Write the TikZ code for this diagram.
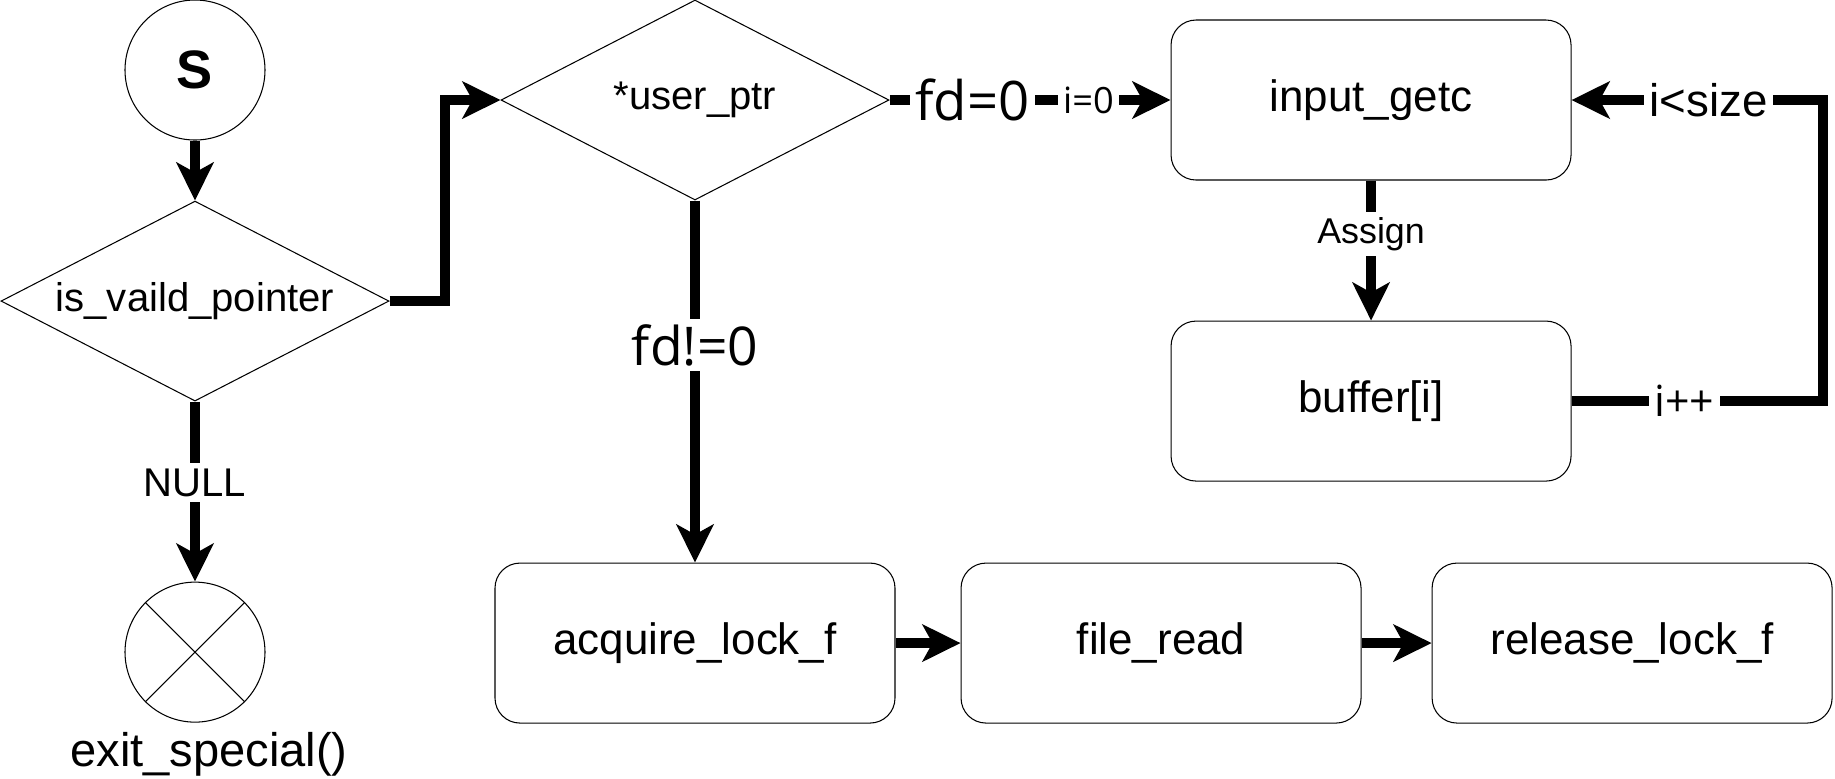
\documentclass[tikz,border=0pt]{standalone}
\usepackage{fontspec}
\setmainfont{Liberation Sans}
\newfontfamily\labelfont{Open Sans}
\usepackage{tikz}
\usetikzlibrary{shapes.geometric, arrows.meta, positioning, calc}

\begin{document}
\begin{tikzpicture}[
    startnode/.style={draw, circle, line width=0.3pt, minimum size=1.4cm, inner sep=0pt, font=\fontsize{15.4}{18}\selectfont\bfseries},
    endnode/.style={draw, circle, line width=0.3pt, minimum size=1.4cm, inner sep=0pt},
    decision/.style={draw, diamond, aspect=2, line width=0.3pt, minimum width=3.88cm, minimum height=2cm, inner sep=0pt, font=\fontsize{11.4}{13}\selectfont},
    box/.style={draw, rectangle, rounded corners=0.25cm, line width=0.3pt, minimum width=4cm, minimum height=1.6cm, text centered, align=center, font=\fontsize{12.5}{15}\selectfont},
    arrow/.style={line width=2.85pt, -{Stealth[length=0.38cm, width=0.37cm, inset=0.1cm]}},
    lbl/.style={fill=white, inner sep=1.5pt}
]

\useasboundingbox (0,0) rectangle (18.35,-7.78);

% Pointer check
\node (start) [startnode] at (1.95,-0.70) {S};
\node (valid) [decision, below=0.6cm of start] {is\_vaild\_pointer};
\node (exit) [endnode, below=1.8cm of valid] {};
\draw [line width=0.3pt] (exit.north west) -- (exit.south east);
\draw [line width=0.3pt] (exit.north east) -- (exit.south west);
\node (exittext) [anchor=base, inner sep=0pt, font=\fontsize{13.4}{16}\selectfont] at ($(exit.south)+(0.14,-0.44)$) {exit\_special()};

\draw [arrow] (start) -- (valid);
\draw [arrow] (valid) -- node[lbl, pos=0.45, font=\fontsize{11.4}{13}\selectfont] {NULL} (exit);

% User pointer dispatch
\node (user) [decision] at (6.95,-1.00) {*user\_ptr};
\draw [arrow] (valid.east) -- ++(0.55,0) |- (user.west);

% Terminal input loop
\node (getc) [box, right=2.81cm of user] {input\_getc};
\node (buffer) [box, below=1.4cm of getc] {buffer[i]};

\draw [arrow] (user) -- node[lbl, pos=0.295, font=\labelfont\fontsize{15.5}{18}\selectfont] {fd=0}
    node[lbl, pos=0.708, font=\labelfont\fontsize{10.3}{12}\selectfont] {i=0} (getc);
\draw [arrow] (getc) -- node[lbl, pos=0.38, font=\fontsize{10.2}{12}\selectfont] {Assign} (buffer);
\draw [arrow] (buffer.east) -- node[lbl, pos=0.45, font=\labelfont\fontsize{12.2}{14}\selectfont] {i++} ++(2.51,0)
    |- node[lbl, pos=0.727, font=\fontsize{13}{16}\selectfont] {i<size} (getc.east);

% File read path
\node (acquire) [box, below=3.62cm of user] {acquire\_lock\_f};
\node (fileread) [box, right=0.65cm of acquire] {file\_read};
\node (release) [box, right=0.7cm of fileread] {release\_lock\_f};

\draw [arrow] (user) -- node[lbl, pos=0.40, font=\labelfont\fontsize{15.2}{18}\selectfont] {fd!=0} (acquire);
\draw [arrow] (acquire) -- (fileread);
\draw [arrow] (fileread) -- (release);

\end{tikzpicture}
\end{document}
